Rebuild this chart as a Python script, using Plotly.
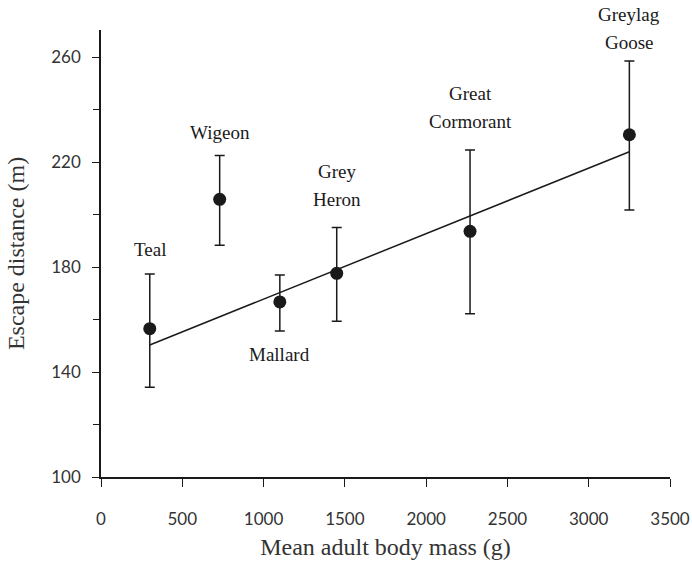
import plotly.graph_objects as go

species = ["Teal", "Wigeon", "Mallard", "Grey<br>Heron", "Great<br>Cormorant", "Greylag<br>Goose"]
body_mass = [300, 730, 1100, 1450, 2270, 3250]
escape_mean = [156.5, 205.8, 166.7, 177.6, 193.6, 230.4]
escape_upper = [177.3, 222.5, 177.0, 195.1, 224.6, 258.5]
escape_lower = [134.2, 188.3, 155.6, 159.3, 162.2, 201.7]
fit_x = [300, 3250]
fit_y = [150.3, 223.9]
y_ticks = [100, 140, 180, 220, 260]
x_ticks = [0, 500, 1000, 1500, 2000, 2500, 3000, 3500]

err_plus = [u - m for u, m in zip(escape_upper, escape_mean)]
err_minus = [m - l for m, l in zip(escape_mean, escape_lower)]

INK = "#1a1a1a"
SERIF = "Liberation Serif, Times New Roman, serif"

fig = go.Figure()
fig.add_trace(go.Scatter(
    x=fit_x, y=fit_y, mode="lines",
    line=dict(color=INK, width=1.5), showlegend=False, hoverinfo="skip"))
fig.add_trace(go.Scatter(
    x=body_mass, y=escape_mean, mode="markers",
    marker=dict(color=INK, size=13),
    error_y=dict(type="data", array=err_plus, arrayminus=err_minus,
                 color=INK, thickness=1.5, width=5),
    showlegend=False))

# label placement: above the upper whisker, except Mallard below
shifts = [12, 10, -11, 15, 16, 6]
LINE_GAP = 28
for name, x, up, lo, s in zip(species, body_mass, escape_upper, escape_lower, shifts):
    lines = name.split("<br>")
    if s > 0:
        for i, line in enumerate(reversed(lines)):
            fig.add_annotation(x=x, y=up, text=line, showarrow=False,
                               yanchor="bottom", yshift=s + i * LINE_GAP,
                               font=dict(family=SERIF, size=19, color=INK))
    else:
        for i, line in enumerate(lines):
            fig.add_annotation(x=x, y=lo, text=line, showarrow=False,
                               yanchor="top", yshift=s - i * LINE_GAP,
                               font=dict(family=SERIF, size=19, color=INK))

fig.update_layout(
    width=692, height=569,
    margin=dict(l=101, r=22, t=30, b=92),
    paper_bgcolor="white", plot_bgcolor="white",
    xaxis=dict(
        range=[0, 3500], tickvals=x_ticks, ticks="outside", ticklen=8,
        tickwidth=1.2, tickcolor=INK, showline=True, linecolor=INK, linewidth=1.5,
        showgrid=False, zeroline=False, ticklabelstandoff=18, automargin=False,
        tickfont=dict(family="Lato", size=17, color="#333"),
        title=dict(text="Mean adult body mass (g)", standoff=10,
                   font=dict(family=SERIF, size=24, color="#333"))),
    yaxis=dict(
        range=[100, 270.3], tickvals=y_ticks, ticks="outside", ticklen=7,
        tickwidth=1.2, tickcolor=INK, showline=True, linecolor=INK, linewidth=1.5,
        showgrid=False, zeroline=False, ticklabelstandoff=8, automargin=False,
        minor=dict(tickvals=[120, 160, 200, 240], ticks="outside", ticklen=6,
                   tickwidth=1.2, tickcolor=INK, showgrid=False),
        tickfont=dict(family="Lato", size=17, color="#333"),
        title=dict(text="Escape distance (m)", standoff=20,
                   font=dict(family=SERIF, size=24, color="#333"))),
)

fig.write_html("out.html", config={"displayModeBar": False},
               post_script="document.body.style.margin='0';")
